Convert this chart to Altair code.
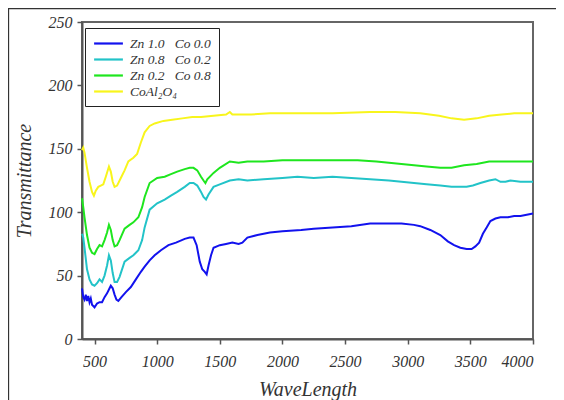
import altair as alt
import pandas as pd

series_names = ["Zn\u00a01.0\u00a0\u00a0\u00a0Co\u00a00.0",
                "Zn\u00a00.8\u00a0\u00a0\u00a0Co\u00a00.2",
                "Zn\u00a00.2\u00a0\u00a0\u00a0Co\u00a00.8",
                "CoAl\u2082O\u2084"]
series_colors = ["#1212ee", "#22c3c8", "#1ee61e", "#f8f51c"]

wl_b = [400,410,420,430,440,450,460,470,480,490,500,520,540,560,580,600,620,630,645,660,
        675,690,715,750,790,830,870,900,940,980,1030,1090,1150,1220,1260,1290,1315,1340,1360,1380,
        1395,1410,1430,1450,1500,1550,1600,1650,1680,1720,1800,1900,2000,2150,2250,2400,2550,2700,2850,2950,
        3050,3100,3180,3260,3320,3370,3420,3470,3510,3540,3570,3600,3630,3660,3700,3740,3800,3850,3900,3950,4000]
blue = [40,33,31,35,30,34,29,32,27,26,25,28,29,29,33,36,40,42,40,35,
        31,30,33,37,41,47,53,57,62,66,70,74,76,79,80,80,74,61,55,53,
        51,58,66,72,74,75,76,75,76,80,82,84,85,86,87,88,89,91,91,91,
        90,89,86,82,77,74,72,71,71,73,76,83,88,93,95,96,96,97,97,98,99]

wl_c = [400,410,420,440,460,480,500,520,540,560,580,600,615,630,645,660,680,700,740,780,
        810,850,880,900,940,1000,1060,1110,1160,1220,1260,1290,1320,1350,1370,1390,1410,1450,1500,1580,
        1650,1720,1850,2000,2120,2250,2400,2550,2700,2850,2950,3050,3150,3260,3350,3420,3470,3520,3580,3650,
        3700,3740,3780,3820,3900,4000]
cyan = [83,80,72,55,47,43,42,44,47,45,50,58,66,62,52,45,45,49,61,64,
        66,70,78,88,102,107,110,113,116,120,123,123,121,116,112,110,114,120,122,125,
        126,125,126,127,128,127,128,127,126,125,124,123,122,121,120,120,120,121,123,125,
        126,124,124,125,124,124]

wl_g = [400,410,420,440,460,480,500,520,540,560,580,600,615,630,645,660,680,700,740,780,
        810,850,880,900,940,1000,1060,1110,1160,1220,1260,1290,1320,1350,1370,1385,1400,1450,1500,1580,
        1650,1720,1850,2000,2200,2400,2600,2750,2850,2950,3050,3150,3260,3350,3450,3550,3650,3750,3850,4000]
green = [111,104,96,82,72,68,67,71,74,73,78,84,90,86,78,73,74,78,87,90,
         92,96,104,112,123,127,128,130,132,134,135,135,133,128,125,123,126,131,135,140,
         139,140,140,141,141,141,141,140,139,138,137,136,135,135,137,138,140,140,140,140]

wl_y = [400,410,420,440,460,480,495,510,530,550,570,590,615,630,645,660,680,710,740,770,
        810,840,870,900,940,980,1050,1120,1200,1280,1350,1450,1550,1580,1600,1640,1750,1900,2100,2400,
        2700,2900,3100,3250,3350,3450,3550,3650,3750,3850,4000]
yellow = [149,151,147,135,124,116,113,117,120,121,122,128,136,132,124,120,121,127,133,140,
          143,146,155,163,168,170,172,173,174,175,175,176,177,179,177,177,177,178,178,178,
          179,179,178,176,174,173,174,176,177,178,178]

x_ticks = [500, 1000, 1500, 2000, 2500, 3000, 3500, 4000]
y_ticks = [0, 50, 100, 150, 200, 250]

rows = []
for name, wl, vals in zip(series_names, [wl_b, wl_c, wl_g, wl_y], [blue, cyan, green, yellow]):
    assert len(wl) == len(vals)
    for i, (w, v) in enumerate(zip(wl, vals)):
        rows.append({"series": name, "wl": w, "t": v, "order": i})
df = pd.DataFrame(rows)

FONT = "Liberation Serif"

lines = alt.Chart(df).mark_line(strokeWidth=2).encode(
    x=alt.X("wl:Q", scale=alt.Scale(domain=[400, 4000], nice=False, zero=False),
            axis=alt.Axis(values=x_ticks, title="WaveLength", grid=False, format="d",
                          labelPadding=9, titlePadding=10)),
    y=alt.Y("t:Q", scale=alt.Scale(domain=[0, 250], nice=False),
            axis=alt.Axis(values=y_ticks, title="Transmittance", grid=False,
                          labelPadding=5, titlePadding=14)),
    color=alt.Color("series:N",
                    scale=alt.Scale(domain=series_names, range=series_colors),
                    legend=alt.Legend(title=None, orient="none", legendX=3, legendY=6,
                                      symbolType="M-2.4,0H2.4", symbolSize=144,
                                      symbolStrokeWidth=2.2, symbolOffset=8,
                                      labelFont=FONT, labelFontStyle="italic", labelFontSize=13.5,
                                      labelColor="#333", labelOffset=14, rowPadding=2,
                                      padding=8, strokeColor="#222", fillColor="white")),
    order="order:Q",
    detail="series:N",
)

frame = alt.Chart(alt.Data(values=[{}])).mark_rect(
    fill="transparent", stroke="#333", strokeWidth=1.3
).encode(
    x=alt.value(-73.5), x2=alt.value(700), y=alt.value(-13.5), y2=alt.value(700)
)

chart = alt.layer(frame, lines).properties(
    width=451, height=317,
    autosize=alt.AutoSizeParams(type="none"),
    padding={"left": 74, "top": 14, "right": 23, "bottom": 61},
    background="white",
).configure_view(
    stroke="#666", strokeWidth=2
).configure_axis(
    labelFont=FONT, labelFontStyle="italic", labelFontSize=16, labelColor="#333",
    titleFont=FONT, titleFontStyle="italic", titleFontSize=20, titleFontWeight="normal",
    titleColor="#333", domainColor="#555", domainWidth=2, tickColor="#555",
    tickWidth=1.5, tickSize=5
)

chart.save("out.html", embed_options={"renderer": "svg", "actions": False})
